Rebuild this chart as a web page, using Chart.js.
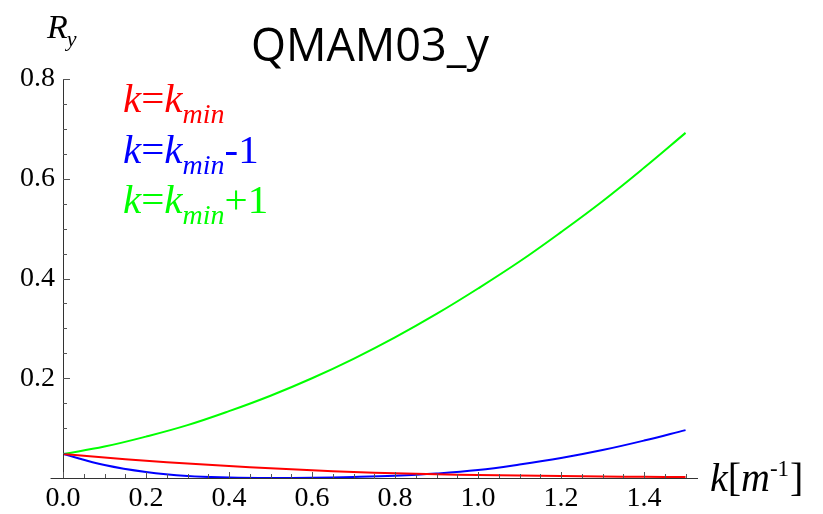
<!DOCTYPE html>
<html>
<head>
<meta charset="utf-8">
<script src="https://cdn.jsdelivr.net/npm/chart.js@4"></script>
<style>
  html, body { margin: 0; padding: 0; background: #fff; }
  #wrap { width: 823px; height: 514px; }
</style>
</head>
<body>
<div id="wrap"><canvas id="rChart" width="823" height="514"></canvas></div>
<script>
// k [1/m]
const kValues = [0, 0.1, 0.2, 0.3, 0.4, 0.5, 0.6, 0.7, 0.8, 0.9, 1.0, 1.1, 1.2, 1.3, 1.4, 1.5];
// R_y for the three cases
const rKmin = [0.048, 0.041, 0.0345, 0.029, 0.024, 0.0195, 0.0155, 0.012, 0.0095, 0.0075, 0.006, 0.0048, 0.0038, 0.003, 0.0025, 0.002];
const rKminMinus1 = [0.048, 0.026, 0.012, 0.004, 0.001, 0.000, 0.0005, 0.002, 0.0045, 0.009, 0.016, 0.027, 0.040, 0.056, 0.075, 0.096];
const rKminPlus1 = [0.048, 0.063, 0.083, 0.106, 0.134, 0.165, 0.200, 0.239, 0.282, 0.329, 0.380, 0.434, 0.493, 0.555, 0.622, 0.692];
const xTicks = [0, 0.2, 0.4, 0.6, 0.8, 1.0, 1.2, 1.4];
const yTicks = [0.2, 0.4, 0.6, 0.8];

const serif = '"Liberation Serif", "Times New Roman", serif';

function toPoints(ys) {
    return kValues.map((k, i) => ({ x: k, y: ys[i] }));
}

// draws text pieces one after another (for sub/superscripts)
function drawRich(ctx, x, y, color, parts) {
    ctx.save();
    ctx.fillStyle = color;
    ctx.textAlign = 'left';
    ctx.textBaseline = 'alphabetic';
    parts.forEach(p => {
        ctx.font = p.font;
        ctx.fillText(p.t, x + (p.dx || 0), y + (p.dy || 0));
        x += ctx.measureText(p.t).width + (p.dx || 0);
    });
    ctx.restore();
}

// Mathematica style axes: cross at origin, ticks pointing inwards
const axesPlugin = {
    id: 'axesPlugin',
    afterDraw(chart) {
        const ctx = chart.ctx;
        const xs = chart.scales.x, ys = chart.scales.y;
        const x0 = xs.getPixelForValue(0), y0 = ys.getPixelForValue(0);
        ctx.save();
        ctx.strokeStyle = '#333';
        ctx.lineWidth = 1;
        ctx.beginPath();
        ctx.moveTo(xs.getPixelForValue(-0.03), y0 + 0.5);
        ctx.lineTo(xs.getPixelForValue(1.53), y0 + 0.5);
        ctx.moveTo(x0 + 0.5, y0);
        ctx.lineTo(x0 + 0.5, ys.getPixelForValue(0.8));
        ctx.stroke();
        ctx.strokeStyle = '#555';
        ctx.beginPath();
        for (let i = 0; i <= 30; i++) {
            const px = Math.round(xs.getPixelForValue(i * 0.05)) + 0.5;
            const len = i % 4 === 0 ? 6 : 4;
            ctx.moveTo(px, y0);
            ctx.lineTo(px, y0 - len);
        }
        for (let i = 1; i <= 16; i++) {
            const py = Math.round(ys.getPixelForValue(i * 0.05)) + 0.5;
            const len = i % 4 === 0 ? 7 : 4;
            ctx.moveTo(x0, py);
            ctx.lineTo(x0 + len, py);
        }
        ctx.stroke();
        ctx.restore();

        // title
        ctx.save();
        ctx.fillStyle = '#000';
        ctx.font = '45px "Open Sans", sans-serif';
        ctx.textAlign = 'center';
        ctx.textBaseline = 'alphabetic';
        ctx.fillText('QMAM03_y', 370, 61);
        ctx.restore();

        // axis labels
        drawRich(ctx, 47, 38, '#000', [
            { t: 'R', font: 'italic 34px ' + serif },
            { t: 'y', font: 'italic 22px ' + serif, dy: 8, dx: -1 }
        ]);
        drawRich(ctx, 710, 491, '#000', [
            { t: 'k', font: 'italic 40px ' + serif },
            { t: '[', font: '40px ' + serif },
            { t: 'm', font: 'italic 40px ' + serif },
            { t: '-1', font: '23px ' + serif, dy: -15 },
            { t: ']', font: '40px ' + serif, dx: 1 }
        ]);

        // legend
        const big = 'italic 41px ' + serif, up = '41px ' + serif, sub = 'italic 28px ' + serif;
        drawRich(ctx, 123, 112, '#ff0000', [
            { t: 'k', font: big }, { t: '=', font: up }, { t: 'k', font: big }, { t: 'min', font: sub, dy: 11 }
        ]);
        drawRich(ctx, 123, 163, '#0000ff', [
            { t: 'k', font: big }, { t: '=', font: up }, { t: 'k', font: big }, { t: 'min', font: sub, dy: 11 },
            { t: '-1', font: up }
        ]);
        drawRich(ctx, 123, 213, '#00ff00', [
            { t: 'k', font: big }, { t: '=', font: up }, { t: 'k', font: big }, { t: 'min', font: sub, dy: 11 },
            { t: '+1', font: up }
        ]);
    }
};

const rCtx = document.getElementById('rChart').getContext('2d');
new Chart(rCtx, {
    type: 'line',
    data: {
        datasets: [{
            label: 'k=kmin',
            data: toPoints(rKmin),
            borderColor: '#ff0000'
        }, {
            label: 'k=kmin-1',
            data: toPoints(rKminMinus1),
            borderColor: '#0000ff'
        }, {
            label: 'k=kmin+1',
            data: toPoints(rKminPlus1),
            borderColor: '#00ff00'
        }]
    },
    options: {
        responsive: false,
        animation: false,
        devicePixelRatio: 1,
        layout: { padding: { top: 79, right: 125, bottom: 0, left: 0 } },
        elements: {
            point: { radius: 0 },
            line: { borderWidth: 2, tension: 0.4, fill: false }
        },
        plugins: {
            legend: { display: false },
            tooltip: { enabled: false }
        },
        scales: {
            x: {
                type: 'linear',
                min: 0,
                max: 1.53,
                grid: { display: false, drawTicks: false },
                border: { display: false },
                afterFit: s => { s.height = 36; },
                afterBuildTicks: s => { s.ticks = xTicks.map(v => ({ value: v })); },
                ticks: {
                    color: '#000',
                    font: { family: serif, size: 28 },
                    padding: 4,
                    maxRotation: 0,
                    callback: v => Number(v).toFixed(1)
                }
            },
            y: {
                type: 'linear',
                min: 0,
                max: 0.8,
                grid: { display: false, drawTicks: false },
                border: { display: false },
                afterFit: s => { s.width = 63; },
                afterBuildTicks: s => { s.ticks = yTicks.map(v => ({ value: v })); },
                ticks: {
                    color: '#000',
                    font: { family: serif, size: 28 },
                    padding: 8,
                    callback: v => Number(v).toFixed(1)
                }
            }
        }
    },
    plugins: [axesPlugin]
});
</script>
</body>
</html>
